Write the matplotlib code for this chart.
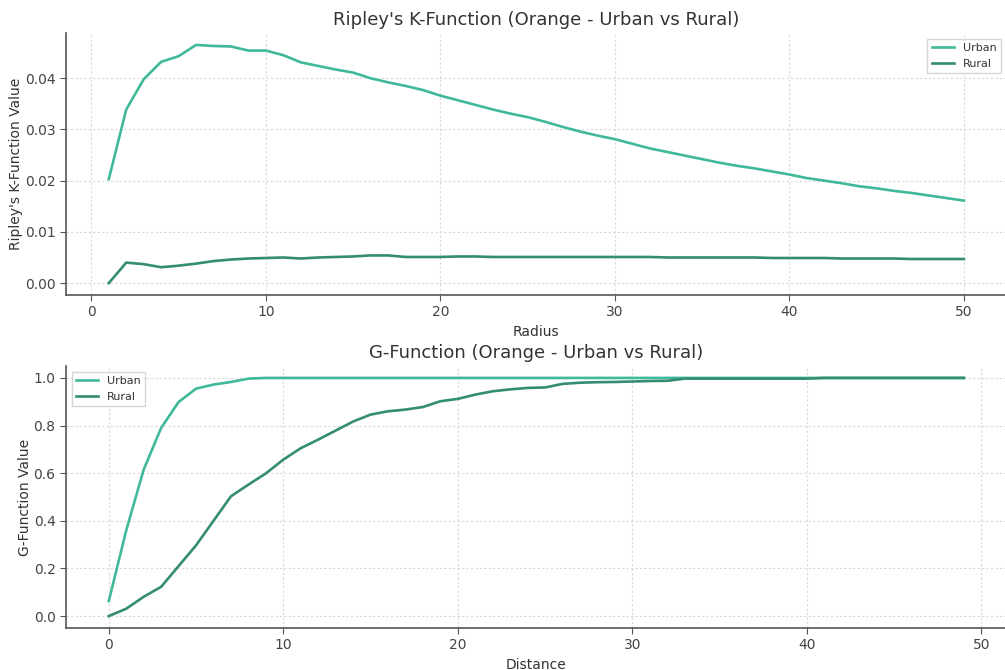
import numpy as np
import matplotlib
matplotlib.use("Agg")
import matplotlib.pyplot as plt

# Ripley's K-function estimates by radius
radius = list(range(1, 51))
k_urban = [0.0203, 0.0339, 0.0398, 0.0432, 0.0443, 0.0465, 0.0463, 0.0462, 0.0454, 0.0454,
           0.0445, 0.0431, 0.0424, 0.0417, 0.0411, 0.0400, 0.0392, 0.0385, 0.0377, 0.0366,
           0.0357, 0.0348, 0.0339, 0.0331, 0.0324, 0.0315, 0.0305, 0.0296, 0.0288, 0.0281,
           0.0272, 0.0263, 0.0256, 0.0249, 0.0242, 0.0235, 0.0229, 0.0224, 0.0218, 0.0212,
           0.0205, 0.0200, 0.0195, 0.0189, 0.0185, 0.0180, 0.0176, 0.0171, 0.0166, 0.0161]
k_rural = [0.0000, 0.0040, 0.0037, 0.0031, 0.0034, 0.0038, 0.0043, 0.0046, 0.0048, 0.0049,
           0.0050, 0.0048, 0.0050, 0.0051, 0.0052, 0.0054, 0.0054, 0.0051, 0.0051, 0.0051,
           0.0052, 0.0052, 0.0051, 0.0051, 0.0051, 0.0051, 0.0051, 0.0051, 0.0051, 0.0051,
           0.0051, 0.0051, 0.0050, 0.0050, 0.0050, 0.0050, 0.0050, 0.0050, 0.0049, 0.0049,
           0.0049, 0.0049, 0.0048, 0.0048, 0.0048, 0.0048, 0.0047, 0.0047, 0.0047, 0.0047]

# G-function (nearest-neighbour distance CDF) by distance
distance = list(range(0, 50))
g_urban = [0.063, 0.36, 0.615, 0.79, 0.899, 0.955, 0.972, 0.983, 0.997, 1.0,
           1.0, 1.0, 1.0, 1.0, 1.0, 1.0, 1.0, 1.0, 1.0, 1.0,
           1.0, 1.0, 1.0, 1.0, 1.0, 1.0, 1.0, 1.0, 1.0, 1.0,
           1.0, 1.0, 1.0, 1.0, 1.0, 1.0, 1.0, 1.0, 1.0, 1.0,
           1.0, 1.0, 1.0, 1.0, 1.0, 1.0, 1.0, 1.0, 1.0, 1.0]
g_rural = [0.0, 0.031, 0.081, 0.123, 0.21, 0.297, 0.40, 0.503, 0.552, 0.599,
           0.657, 0.705, 0.741, 0.779, 0.817, 0.846, 0.860, 0.867, 0.878, 0.902,
           0.912, 0.930, 0.944, 0.952, 0.958, 0.960, 0.975, 0.980, 0.982, 0.983,
           0.985, 0.987, 0.988, 0.997, 0.997, 0.997, 0.997, 0.997, 0.997, 0.997,
           0.997, 1.0, 1.0, 1.0, 1.0, 1.0, 1.0, 1.0, 1.0, 1.0]

URBAN_COLOR = "#40b99a"
RURAL_COLOR = "#348c73"

plt.rcParams["font.family"] = ["DejaVu Sans"]

fig = plt.figure(figsize=(10.05, 6.7), dpi=100)
ax1 = fig.add_axes([0.0657, 0.5597, 0.936, 0.391])
ax2 = fig.add_axes([0.0657, 0.0627, 0.936, 0.391])


def style(ax):
    ax.grid(True, linestyle=(0, (2, 2)), color="#d8d8d8", linewidth=0.8)
    ax.set_axisbelow(True)
    for side in ("top", "right"):
        ax.spines[side].set_visible(False)
    for side in ("left", "bottom"):
        ax.spines[side].set_color("#555555")
        ax.spines[side].set_linewidth(1.2)
    ax.tick_params(axis="both", labelsize=10, colors="#555555", length=4,
                   direction="out", labelcolor="#444444")


ax1.plot(radius, k_urban, color=URBAN_COLOR, linewidth=1.9, label="Urban")
ax1.plot(radius, k_rural, color=RURAL_COLOR, linewidth=1.9, label="Rural")
ax1.set_title("Ripley's K-Function (Orange - Urban vs Rural)", fontsize=13, color="#333333")
ax1.set_xlabel("Radius", fontsize=10, color="#333333")
ax1.set_ylabel("Ripley's K-Function Value", fontsize=10, color="#333333", labelpad=1)
ax1.set_xticks([0, 10, 20, 30, 40, 50])
ax1.set_yticks([0.00, 0.01, 0.02, 0.03, 0.04])
style(ax1)
ax1.legend(loc="upper right", fontsize=8, frameon=True, edgecolor="#cccccc",
           fancybox=False, labelcolor="#333333")

ax2.plot(distance, g_urban, color=URBAN_COLOR, linewidth=1.9, label="Urban")
ax2.plot(distance, g_rural, color=RURAL_COLOR, linewidth=1.9, label="Rural")
ax2.set_title("G-Function (Orange - Urban vs Rural)", fontsize=13, color="#333333")
ax2.set_xlabel("Distance", fontsize=10, color="#333333")
ax2.set_ylabel("G-Function Value", fontsize=10, color="#333333", labelpad=1)
ax2.set_xticks([0, 10, 20, 30, 40, 50])
ax2.set_yticks([0.0, 0.2, 0.4, 0.6, 0.8, 1.0])
style(ax2)
ax2.legend(loc="upper left", fontsize=8, frameon=True, edgecolor="#cccccc",
           fancybox=False, labelcolor="#333333")

fig.savefig("out.png", dpi=100)
